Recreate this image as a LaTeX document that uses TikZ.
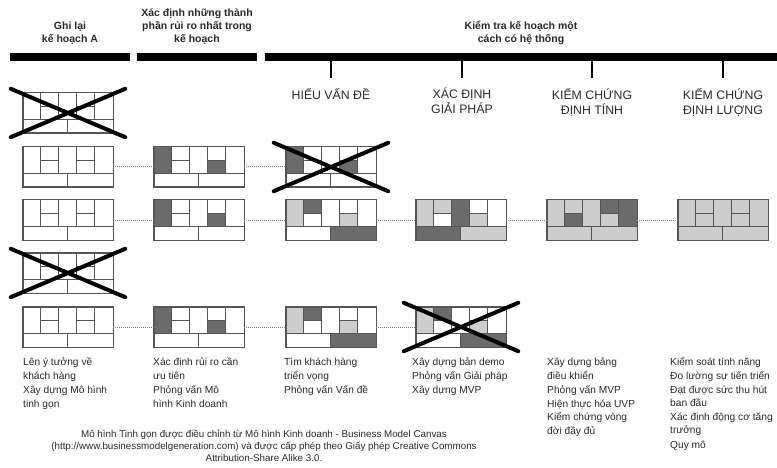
\documentclass[tikz,border=0pt]{standalone}
\usepackage{fontspec}
\setmainfont{Liberation Sans}
\usetikzlibrary{positioning}

\definecolor{frame}{HTML}{555555}
\definecolor{dark}{HTML}{6B6B6B}
\definecolor{light}{HTML}{CDCDCD}
\definecolor{ink}{HTML}{2A2A2A}

\tikzset{
  cproblem/.store in=\cproblem, csolution/.store in=\csolution, cmetrics/.store in=\cmetrics,
  cuvp/.store in=\cuvp, cadvantage/.store in=\cadvantage, cchannels/.store in=\cchannels,
  csegments/.store in=\csegments, ccost/.store in=\ccost, crevenue/.store in=\crevenue,
  blankcanvas/.style={cproblem=white, csolution=white, cmetrics=white, cuvp=white,
    cadvantage=white, cchannels=white, csegments=white, ccost=white, crevenue=white},
  planA/.style={},
  risk/.style={cproblem=dark, cchannels=dark},
  problemfit/.style={cproblem=light, csolution=dark, cchannels=light, crevenue=dark},
  solutionfit/.style={cproblem=light, csolution=light, cuvp=dark, cchannels=light, ccost=dark, crevenue=light},
  mvpfit/.style={cproblem=light, csolution=light, cmetrics=dark, cuvp=light, cadvantage=dark,
    cchannels=light, csegments=dark, ccost=light, crevenue=light},
  scalefit/.style={cproblem=light, csolution=light, cmetrics=light, cuvp=light, cadvantage=light,
    cchannels=light, csegments=light, ccost=light, crevenue=light},
  canvasbox/.style={minimum width=90pt, minimum height=40pt, inner sep=0pt},
  cellline/.style={frame, line width=1.1pt},
  rim/.style={frame, line width=1.4pt},
  bar/.style={fill=black, minimum height=8pt, inner sep=0pt},
  head/.style={align=center, inner sep=0pt, text=ink, font=\bfseries\fontsize{10.5}{13}\selectfont},
  stage/.style={align=center, inner sep=0pt, text=ink, font=\fontsize{12.3}{15}\selectfont},
  tick/.style={line width=2pt, black},
  link/.style={densely dotted, line width=1pt, gray},
  cross/.style={line width=4pt, black, line cap=round},
  todo/.style={align=left, inner sep=0pt, anchor=north west, text=ink, font=\fontsize{10.2}{13.3}\selectfont},
}

\newcommand{\topline}{\rule{0pt}{12.5pt}}

\newcommand{\leancanvas}[3]{% pattern, name, position
  \node[canvasbox] (#2) at (#3) {};
  \begin{scope}[blankcanvas, #1, shift={(#2.south west)}, y=1pt]
    \fill[\cproblem] (0,13.3) rectangle (18,40);
    \fill[\csolution] (18,26.7) rectangle (36,40);
    \fill[\cmetrics] (18,13.3) rectangle (36,26.7);
    \fill[\cuvp] (36,13.3) rectangle (54,40);
    \fill[\cadvantage] (54,26.7) rectangle (72,40);
    \fill[\cchannels] (54,13.3) rectangle (72,26.7);
    \fill[\csegments] (72,13.3) rectangle (90,40);
    \fill[\ccost] (0,0) rectangle (45,13.3);
    \fill[\crevenue] (45,0) rectangle (90,13.3);
    \draw[cellline] (0,13.3) -- (90,13.3) (45,0) -- (45,13.3)
      (18,13.3) -- (18,40) (36,13.3) -- (36,40) (54,13.3) -- (54,40) (72,13.3) -- (72,40)
      (18,26.7) -- (36,26.7) (54,26.7) -- (72,26.7);
  \end{scope}
  \draw[rim] (#2.south west) rectangle (#2.north east);}

\newcommand{\crossout}[1]{%
  \draw[cross] ([xshift=-12pt,yshift=4pt]#1.north west) -- ([xshift=12pt,yshift=-4pt]#1.south east)
    ([xshift=12pt,yshift=4pt]#1.north east) -- ([xshift=-12pt,yshift=-4pt]#1.south west);}

\begin{document}
\begin{tikzpicture}[x=1pt, y=-1pt]
\useasboundingbox[fill=white] (0,0) rectangle (777,468);

% Header bars
\node[bar, minimum width=120pt] (bar1) at (70,57) {};
\node[bar, minimum width=120pt] (bar2) at (197,57) {};
\node[bar, minimum width=512pt] (bar3) at (521,57) {};

\node[head, above=8pt of bar1] (headA) {Ghi lại\\kế hoạch A};
\node[head, above=8pt of bar2] (headR) {Xác định những thành\\phần rủi ro nhất trong\\kế hoạch};
\node[head, above=8pt of bar3] (headT) {Kiểm tra kế hoạch một\\cách có hệ thống};

% Stages
\node[stage, anchor=north] (hieu) at (331,88) {HIỂU VẤN ĐỀ};
\node[stage, anchor=north] (giaiphap) at (462,88) {XÁC ĐỊNH\\GIẢI PHÁP};
\node[stage, anchor=north] (dinhtinh) at (592,88) {KIỂM CHỨNG\\ĐỊNH TÍNH};
\node[stage, anchor=north] (dinhluong) at (723,88) {KIỂM CHỨNG\\ĐỊNH LƯỢNG};
\foreach \s in {hieu,giaiphap,dinhtinh,dinhluong}
  \draw[tick, shorten >=10pt] (bar3.south -| \s.north) -- (\s.north);

% Canvases
\leancanvas{planA}{a0}{68,113}
\leancanvas{planA}{a1}{68,167}
\leancanvas{planA}{a2}{68,220}
\leancanvas{planA}{a3}{68,273}
\leancanvas{planA}{a4}{68,327}
\leancanvas{risk}{r1}{199,167}
\leancanvas{risk}{r2}{199,220}
\leancanvas{risk}{r4}{199,327}
\leancanvas{risk}{h1}{331,167}
\leancanvas{problemfit}{h2}{331,220}
\leancanvas{problemfit}{h4}{331,327}
\leancanvas{solutionfit}{g2}{461,220}
\leancanvas{problemfit}{g4}{461,327}
\leancanvas{mvpfit}{t2}{592,220}
\leancanvas{scalefit}{l2}{723,220}

\draw[link] (a1) -- (r1);
\draw[link] (r1) -- (h1);
\draw[link] (a2) -- (r2);
\draw[link] (r2) -- (h2);
\draw[link] (h2) -- (g2);
\draw[link] (g2) -- (t2);
\draw[link] (t2) -- (l2);
\draw[link] (a4) -- (r4);
\draw[link] (r4) -- (h4);
\draw[link] (h4) -- (g4);

% Dropped plans
\crossout{a0}
\crossout{h1}
\crossout{a3}
\crossout{g4}

% Activities
\node[todo] (txtA) at (23,353) {\topline Lên ý tưởng về\\khách hàng\\[1.5pt]Xây dựng Mô hình\\tinh gọn};
\node[todo] (txtR) at (153,353) {\topline Xác định rủi ro cần\\ưu tiên\\[1.5pt]Phỏng vấn Mô\\hình Kinh doanh};
\node[todo] (txtH) at (284,353) {\topline Tìm khách hàng\\triển vọng\\[1.5pt]Phỏng vấn Vấn đề};
\node[todo] (txtG) at (412,353) {\topline Xây dựng bản demo\\[0.5pt]Phỏng vấn Giải pháp\\[0.5pt]Xây dựng MVP};
\node[todo] (txtT) at (547,353) {\topline Xây dựng bảng\\điều khiển\\[1pt]Phỏng vấn MVP\\[0.5pt]Hiện thực hóa UVP\\[0.5pt]Kiểm chứng vòng\\đời đầy đủ};
\node[todo] (txtL) at (670,353) {\topline Kiểm soát tính năng\\Đo lường sự tiến triển\\[1pt]Đạt được sức thu hút\\ban đầu\\[0.5pt]Xác định động cơ tăng\\trưởng\\[1pt]Quy mô};

% Credit
\node[align=center, inner sep=0pt, anchor=north, text=ink, font=\fontsize{9.8}{12}\selectfont] (credit) at (264,426)
  {\rule{0pt}{11pt}Mô hình Tinh gọn được điều chỉnh từ Mô hình Kinh doanh - Business Model Canvas\\(http://www.businessmodelgeneration.com) và được cấp phép theo Giấy phép Creative Commons\\Attribution-Share Alike 3.0.};
\end{tikzpicture}
\end{document}
